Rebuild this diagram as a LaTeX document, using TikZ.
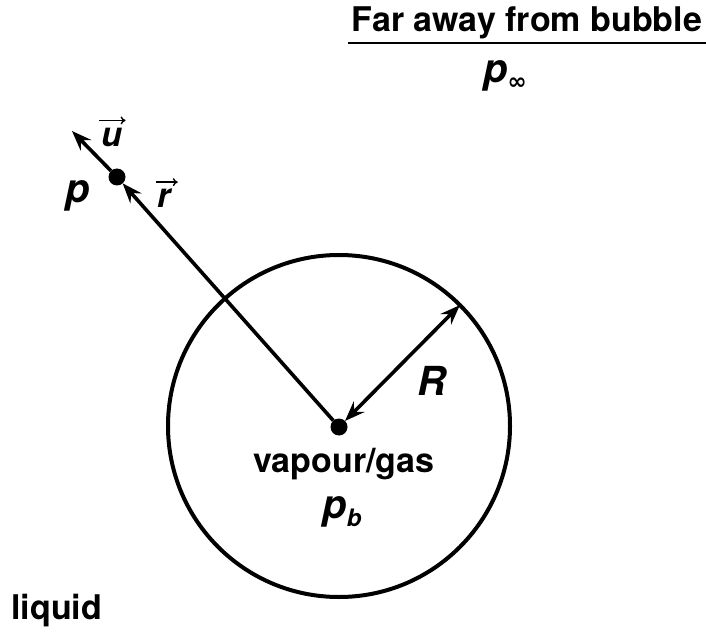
\documentclass[tikz,border=0pt]{standalone}
\usepackage{fontspec}
\setmainfont{TeX Gyre Heros}
\newfontfamily\symfont{DejaVu Sans}
\usetikzlibrary{arrows.meta}
\begin{document}
\begin{tikzpicture}[x=1pt,y=-1pt,
  >={Stealth[length=20pt,width=15pt,inset=7pt]},
  txt/.style={font=\fontsize{34}{38}\selectfont\bfseries, anchor=base, inner sep=0},
  sym/.style={font=\fontsize{40}{44}\selectfont\bfseries\itshape, anchor=base, inner sep=0},
  vecsym/.style={font=\fontsize{34}{38}\selectfont\bfseries\itshape, anchor=base, inner sep=0},
  dot/.style={circle, fill=black, inner sep=0, minimum size=17pt, outer sep=0},
  thick line/.style={line width=3.6pt},
  vecarrow/.style={line width=1.4pt, -{To[length=5pt,width=8pt]}}
]
\useasboundingbox (0,0) rectangle (706,636);

% bubble
\node[circle, draw, line width=4pt, minimum size=342pt, inner sep=0, outer sep=0] (bubble) at (339,426) {};
\node[dot] (c) at (339,427) {};
\node[dot] (pdot) at (117,177) {};
\coordinate (uend) at (72,131);

% connectors
\draw[thick line, ->] (c) -- (pdot);
\draw[thick line, ->] (pdot) -- (uend);
\draw[thick line, <->] (c) -- (bubble.45);

% texts
\node[txt] (title) at (527,32) {Far away from bubble};
\draw[line width=2.4pt] (348,43) -- (706,43);
\node[sym] (pinf) at (505,83) {p\raisebox{-7pt}{\symfont\fontsize{23}{25}\selectfont\bfseries ∞}};
\node[sym] (plab) at (78,203) {p};
\node[vecsym] (u) at (112,147) {u};
\draw[vecarrow] ([xshift=-2pt,yshift=8pt]u.north west) -- ([xshift=3pt,yshift=8pt]u.north east);
\node[vecsym] (r) at (164,208) {r};
\draw[vecarrow] ([xshift=-1pt,yshift=7pt]r.north west) -- ([xshift=7pt,yshift=7pt]r.north east);
\node[sym] (R) at (432,395) {R};
\node[txt] (gas) at (344,472) {vapour/gas};
\node[sym] (pb) at (342,518) {p\raisebox{-8pt}{\fontsize{24}{26}\selectfont\bfseries\itshape b}};
\node[txt, anchor=base west] (liquid) at (11,619) {liquid};
\end{tikzpicture}
\end{document}
